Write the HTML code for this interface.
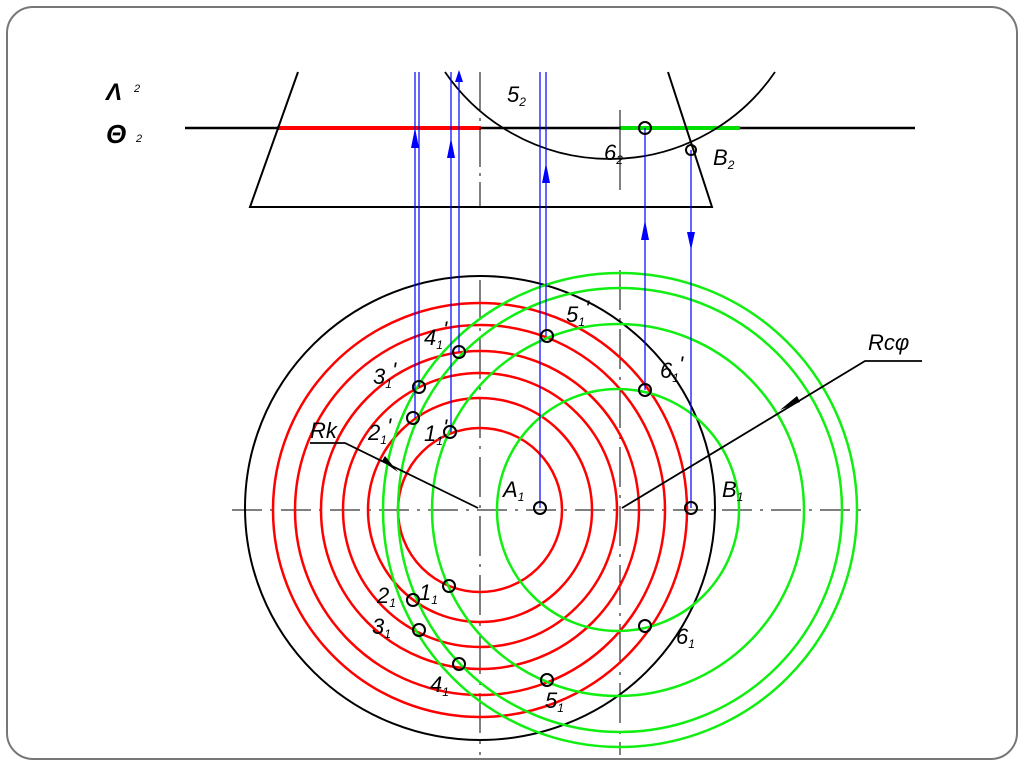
<!DOCTYPE html>
<html><head><meta charset="utf-8"><style>
html,body{margin:0;padding:0;background:#fff;}
svg{display:block}
text{font-family:"Liberation Sans","DejaVu Sans",sans-serif;font-style:italic;fill:#000}
</style></head><body>
<svg width="1024" height="767" viewBox="0 0 1024 767" xmlns="http://www.w3.org/2000/svg">
<defs>
<marker id="ab" markerWidth="8" markerHeight="14" refX="4" refY="0" orient="auto" markerUnits="userSpaceOnUse"></marker>
</defs>
<rect x="0" y="0" width="1024" height="767" fill="#fff"/>
<rect x="7" y="7" width="1010" height="752" rx="26" fill="#fff" stroke="#777" stroke-width="2"/>

<!-- top view -->
<line x1="185" y1="128" x2="915" y2="128" stroke="#000" stroke-width="2.5"/>
<line x1="277" y1="128" x2="481" y2="128" stroke="#f00" stroke-width="4"/>
<line x1="620" y1="128" x2="740" y2="128" stroke="#0d0" stroke-width="4"/>
<polyline points="298,72 250,207 712,207 668,72" fill="none" stroke="#000" stroke-width="2"/>
<path d="M445,72 A200,200 0 0 0 775,72" fill="none" stroke="#000" stroke-width="1.8"/>
<line x1="480" y1="72" x2="480" y2="207" stroke="#000" stroke-width="1" stroke-dasharray="40,6,3,6"/>
<line x1="620" y1="110" x2="620" y2="190" stroke="#000" stroke-width="1"/>
<text x="106" y="100" font-size="24" font-weight="bold">Λ</text><text x="134" y="92" font-size="11">2</text>
<text x="106" y="143" font-size="26" font-weight="bold">Θ</text><text x="136" y="142" font-size="11">2</text>
<text x="507" y="102" font-size="22">5<tspan font-size="12" dy="4">2</tspan></text>
<text x="604" y="160" font-size="22">6<tspan font-size="12" dy="4">2</tspan></text>
<text x="713" y="165" font-size="22">B<tspan font-size="12" dy="4">2</tspan></text>

<!-- axes bottom -->
<g stroke="#000" stroke-width="1">
<line x1="232" y1="510" x2="865" y2="510" stroke-dasharray="30,8,3,8"/>
<line x1="480" y1="280" x2="480" y2="755" stroke-dasharray="40,8,3,8"/>
<line x1="620" y1="270" x2="620" y2="755" stroke-dasharray="40,8,3,8"/>
</g>
<ellipse cx="480" cy="508" rx="235" ry="232" fill="none" stroke="#000" stroke-width="2"/>

<!-- red circles -->
<g fill="none" stroke="#f00" stroke-width="2.5">
<circle cx="480" cy="510" r="82"/>
<circle cx="480" cy="510" r="112"/>
<circle cx="480" cy="510" r="137"/>
<circle cx="480" cy="510" r="159"/>
<circle cx="480" cy="510" r="185"/>
<circle cx="480" cy="510" r="207"/>
</g>
<!-- green circles -->
<g fill="none" stroke="#1e1" stroke-width="2.5">
<circle cx="618" cy="510" r="121"/>
<circle cx="618" cy="510" r="186"/>
<circle cx="620" cy="510" r="222"/>
<circle cx="620" cy="510" r="237"/>
</g>

<!-- blue projection lines -->
<g stroke="#00f" stroke-width="1.2">
<line x1="415" y1="72" x2="415" y2="418"/>
<line x1="419" y1="72" x2="419" y2="387"/>
<line x1="451" y1="72" x2="451" y2="432"/>
<line x1="459" y1="72" x2="459" y2="352"/>
<line x1="540" y1="72" x2="540" y2="508"/>
<line x1="546" y1="72" x2="546" y2="336"/>
<line x1="645" y1="128" x2="645" y2="390"/>
<line x1="691" y1="150" x2="691" y2="508"/>
</g>
<g fill="#00f">
<polygon points="415,128 411,148 419,148"/>
<polygon points="451,138 447,158 455,158"/>
<polygon points="459,70 455,82 463,82"/>
<polygon points="546,163 542,183 550,183"/>
<polygon points="645,220 641,240 649,240"/>
<polygon points="691,250 687,232 695,232"/>
</g>

<!-- leaders -->
<g stroke="#000" stroke-width="1.8" fill="none">
<polyline points="310,443 345,443 478,508"/>
<polyline points="922,361 865,361 622,508"/>
</g>
<polygon points="398,472 382,461 385,456" fill="#000"/>
<polygon points="780,410 797,396 800,402" fill="#000"/>

<!-- points -->
<g fill="none" stroke="#000" stroke-width="2">
<circle cx="645" cy="128" r="6"/><circle cx="691" cy="150" r="5"/>
<circle cx="547" cy="336" r="6"/><circle cx="459" cy="352" r="6"/>
<circle cx="419" cy="387" r="6"/><circle cx="645" cy="390" r="6"/>
<circle cx="413" cy="418" r="6"/><circle cx="450" cy="432" r="6"/>
<circle cx="540" cy="508" r="6"/><circle cx="691" cy="508" r="6"/>
<circle cx="449" cy="586" r="6"/><circle cx="413" cy="600" r="6"/>
<circle cx="419" cy="630" r="6"/><circle cx="459" cy="664" r="6"/>
<circle cx="547" cy="680" r="6"/><circle cx="645" cy="626" r="6"/>
</g>

<!-- labels -->
<g font-size="22">
<text x="566" y="322">5<tspan font-size="12" dy="4">1</tspan><tspan dy="-10">'</tspan></text>
<text x="424" y="345">4<tspan font-size="12" dy="4">1</tspan><tspan dy="-12">'</tspan></text>
<text x="373" y="384">3<tspan font-size="12" dy="4">1</tspan><tspan dy="-10">'</tspan></text>
<text x="660" y="378">6<tspan font-size="12" dy="4">1</tspan><tspan dy="-10">'</tspan></text>
<text x="368" y="440">2<tspan font-size="12" dy="4">1</tspan><tspan dy="-10">'</tspan></text>
<text x="424" y="441">1<tspan font-size="12" dy="4">1</tspan><tspan dy="-10">'</tspan></text>
<text x="310" y="438">Rk</text>
<text x="868" y="350">Rcφ</text>
<text x="503" y="497">A<tspan font-size="12" dy="4">1</tspan></text>
<text x="722" y="497">B<tspan font-size="12" dy="4">1</tspan></text>
<text x="377" y="603">2<tspan font-size="12" dy="4">1</tspan></text>
<text x="419" y="600">1<tspan font-size="12" dy="4">1</tspan></text>
<text x="372" y="634">3<tspan font-size="12" dy="4">1</tspan></text>
<text x="676" y="644">6<tspan font-size="12" dy="4">1</tspan></text>
<text x="430" y="692">4<tspan font-size="12" dy="4">1</tspan></text>
<text x="545" y="708">5<tspan font-size="12" dy="4">1</tspan></text>
</g>
</svg>
</body></html>
